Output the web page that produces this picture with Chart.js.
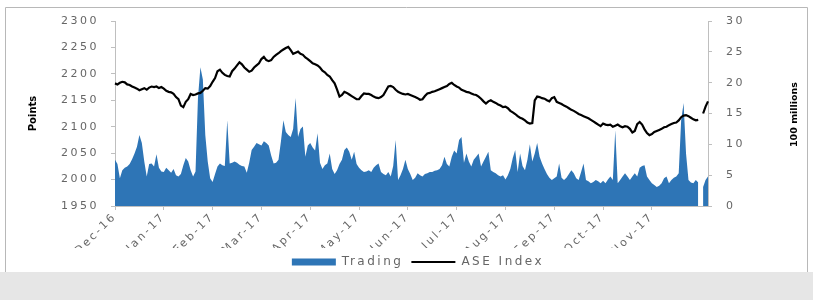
<!DOCTYPE html>
<html>
<head>
<meta charset="utf-8">
<script src="https://cdn.jsdelivr.net/npm/chart.js@4"></script>
<style>
  body { margin: 0; background: #fff; }
</style>
</head>
<body>
<canvas id="chart" width="813" height="300"></canvas>
<script>
// month labels on the x axis, one every 20 trading days
const monthLabels = ['Dec-16', 'Jan-17', 'Feb-17', 'Mar-17', 'Apr-17', 'May-17',
  'Jun-17', 'Jul-17', 'Aug-17', 'Sep-17', 'Oct-17', 'Nov-17'];
const daysPerLabel = 20;

// ASE Index (points, left axis)
const aseIndex = [
  2182, 2180, 2183, 2185, 2184, 2180, 2179, 2176, 2174, 2172, 2169, 2171, 2173, 2170, 2174, 2176, 2175, 2176, 2173, 2175,
  2172, 2168, 2166, 2165, 2162, 2156, 2152, 2140, 2137, 2147, 2152, 2162, 2160, 2161, 2163, 2164, 2168, 2173, 2172, 2177,
  2185, 2192, 2205, 2208, 2202, 2198, 2196, 2195, 2205, 2210, 2216, 2222, 2218, 2212, 2208, 2204, 2206, 2212, 2216, 2220,
  2228, 2232, 2226, 2224, 2226, 2232, 2236, 2239, 2243, 2246, 2249, 2251, 2245, 2238, 2240, 2242, 2238, 2236, 2231, 2228,
  2224, 2220, 2218, 2216, 2212, 2206, 2203, 2198, 2195, 2188, 2182, 2170, 2157, 2160, 2166, 2164, 2161, 2158, 2155, 2152,
  2152, 2158, 2163, 2162, 2162, 2160, 2157, 2155, 2154, 2156, 2160, 2168, 2176, 2177, 2175, 2170, 2166, 2164, 2162, 2161,
  2162, 2160, 2158, 2156, 2154, 2151, 2152, 2158, 2163, 2164, 2166, 2167, 2169, 2171, 2173, 2175, 2177, 2181, 2183, 2179,
  2176, 2174, 2170, 2168, 2166, 2165, 2163, 2161, 2160, 2157, 2153, 2148, 2144, 2148, 2150, 2147, 2145, 2142, 2140, 2137,
  2138, 2135, 2130, 2127, 2124, 2120, 2117, 2115, 2112, 2108, 2106, 2107, 2150, 2157, 2156, 2154, 2153, 2150, 2148, 2154,
  2156, 2147, 2145, 2143, 2140, 2138, 2135, 2132, 2130, 2127, 2124, 2122, 2120, 2118, 2116, 2113, 2110, 2107, 2104, 2101,
  2106, 2104, 2103, 2104, 2100, 2102, 2104, 2101, 2099, 2101, 2100, 2096, 2089, 2092, 2105, 2109, 2104, 2095, 2088, 2084,
  2086, 2090, 2092, 2094, 2096, 2099, 2100, 2103, 2105, 2107, 2108, 2112, 2118, 2121, 2122, 2120, 2117, 2114, 2112, 2113,
  2114, 2125, 2138, 2148
];

// Trading (100 millions, right axis)
const trading = [
  7.5, 6.8, 4.5, 5.8, 6.2, 6.4, 6.8, 7.6, 8.5, 9.6, 11.5, 10.2, 7.2, 4.8, 6.8, 6.9, 6.4, 8.4, 6.2, 5.6,
  5.5, 6.2, 5.8, 5.4, 6.0, 5.0, 4.8, 5.2, 6.6, 7.8, 7.2, 5.8, 4.8, 5.6, 17.5, 22.5, 20.5, 11.5, 7.2, 4.5,
  3.9, 5.2, 6.4, 6.9, 6.6, 6.5, 13.9, 6.9, 7.0, 7.2, 7.0, 6.7, 6.5, 6.4, 5.4, 7.0, 9.1, 9.6, 10.2, 10.0,
  9.8, 10.5, 10.2, 9.8, 8.2, 6.9, 7.0, 7.5, 10.5, 13.9, 12.0, 11.5, 11.2, 12.5, 17.5, 11.2, 12.5, 12.9, 8.0, 9.8,
  10.2, 9.5, 9.0, 11.8, 7.0, 6.0, 6.6, 6.9, 8.5, 6.0, 5.2, 5.8, 6.8, 7.5, 9.1, 9.5, 8.8, 7.5, 8.8, 6.8,
  6.2, 5.8, 5.5, 5.6, 5.8, 5.5, 6.2, 6.6, 6.9, 5.5, 5.2, 5.0, 5.5, 4.8, 6.5, 10.7, 4.2, 5.0, 6.0, 7.5,
  6.0, 5.2, 4.2, 4.6, 5.3, 5.0, 4.8, 5.2, 5.3, 5.5, 5.5, 5.7, 5.8, 6.0, 6.6, 8.0, 6.8, 6.4, 8.0, 9.0,
  8.5, 10.7, 11.2, 7.0, 8.5, 7.2, 6.4, 7.5, 8.0, 8.5, 6.4, 7.2, 8.0, 8.8, 5.8, 5.5, 5.3, 5.0, 4.8, 5.0,
  4.3, 5.0, 6.0, 7.8, 9.1, 5.5, 8.5, 6.5, 5.8, 7.5, 10.0, 7.2, 8.5, 10.2, 8.0, 6.9, 6.0, 5.2, 4.6, 4.2,
  4.5, 4.8, 6.9, 4.6, 4.2, 4.6, 5.2, 5.8, 5.3, 4.5, 4.2, 5.5, 6.9, 4.2, 4.0, 3.7, 3.9, 4.2, 4.0, 3.7,
  4.1, 3.7, 4.3, 4.8, 4.2, 12.3, 3.7, 4.2, 4.8, 5.3, 4.8, 4.2, 4.8, 5.3, 4.8, 6.2, 6.5, 6.6, 4.8, 4.2,
  3.7, 3.4, 3.1, 3.3, 3.7, 4.5, 4.8, 3.7, 4.2, 4.6, 4.8, 5.3, 13.9, 16.7, 8.5, 4.2, 3.8, 3.7, 4.2, 3.8,
  3.3, 3.1, 4.2, 4.8
];

// category labels: month name on every 20th day, blank otherwise
const categories = aseIndex.map((v, i) => i % daysPerLabel === 0 ? monthLabels[i / daysPerLabel] : '');

const axisGray = '#bfbfbf';
const textGray = '#666666';

// white panel with a thin grey frame, grey strip along the bottom
const panel = {
  id: 'panel',
  beforeDraw(chart) {
    const ctx = chart.ctx;
    ctx.save();
    ctx.fillStyle = '#fff';
    ctx.fillRect(0, 0, chart.width, chart.height);
    ctx.fillStyle = '#e6e6e6';
    ctx.fillRect(0, 272, chart.width, chart.height - 272);
    ctx.strokeStyle = '#b8b8b8';
    ctx.lineWidth = 1;
    ctx.beginPath();
    ctx.moveTo(5.5, 272);
    ctx.lineTo(5.5, 7.5);
    ctx.lineTo(807.5, 7.5);
    ctx.lineTo(807.5, 272);
    ctx.stroke();
    ctx.restore();
  }
};

// wide, spaced-out lettering like the original export
const letterSpacing = {
  id: 'letterSpacing',
  beforeUpdate(chart) { chart.ctx.letterSpacing = '2.5px'; },
  beforeDraw(chart) { chart.ctx.letterSpacing = '2.5px'; }
};

// both axis titles read bottom-to-top
const axisTitles = {
  id: 'axisTitles',
  afterDraw(chart) {
    const ctx = chart.ctx;
    const midY = (chart.chartArea.top + chart.chartArea.bottom) / 2;
    ctx.save();
    ctx.letterSpacing = '0px';
    ctx.fillStyle = '#000';
    ctx.font = 'bold 10px "DejaVu Sans"';
    ctx.textAlign = 'center';
    ctx.textBaseline = 'middle';
    ctx.translate(33, midY);
    ctx.rotate(-Math.PI / 2);
    ctx.fillText('Points', 0, 0);
    ctx.restore();

    ctx.save();
    ctx.letterSpacing = '0px';
    ctx.fillStyle = '#000';
    ctx.font = 'bold 9.5px "DejaVu Sans"';
    ctx.textAlign = 'center';
    ctx.textBaseline = 'middle';
    ctx.translate(795, midY + 1);
    ctx.rotate(-Math.PI / 2);
    ctx.fillText('100 millions', 0, 0);
    ctx.restore();
  }
};

const chart = new Chart(document.getElementById('chart'), {
  type: 'line',
  data: {
    labels: categories,
    datasets: [{
      label: 'Trading',
      data: trading,
      yAxisID: 'y1',
      fill: 'origin',
      backgroundColor: '#2e75b6',
      borderColor: '#2e75b6',
      borderWidth: 0,
      pointRadius: 0,
      pointStyle: 'rect',
      tension: 0,
      order: 2
    }, {
      label: 'ASE Index',
      data: aseIndex,
      yAxisID: 'y',
      fill: false,
      backgroundColor: '#000',
      borderColor: '#000',
      borderWidth: 2.2,
      pointRadius: 0,
      pointStyle: 'line',
      tension: 0,
      order: 1
    }]
  },
  options: {
    responsive: false,
    animation: false,
    layout: { padding: { left: 23, right: 0, top: 21, bottom: 22 } },
    plugins: {
      legend: {
        position: 'bottom',
        labels: {
          usePointStyle: true,
          pointStyleWidth: 44,
          boxHeight: 7,
          padding: 8,
          color: textGray,
          font: { family: 'DejaVu Sans', size: 12 },
          sort: (a, b) => a.datasetIndex - b.datasetIndex
        }
      },
      tooltip: { enabled: false }
    },
    scales: {
      x: {
        grid: { drawOnChartArea: false, drawTicks: true, tickLength: 4, color: axisGray },
        border: { color: axisGray },
        ticks: {
          autoSkip: false,
          maxRotation: 45,
          minRotation: 45,
          padding: 0,
          color: textGray,
          font: { family: 'DejaVu Sans', size: 11 },
          callback: function (value) {
            const label = this.getLabelForValue(value);
            return label === '' ? null : label;
          }
        },
        afterFit: (scale) => { scale.height = 42; }
      },
      y: {
        position: 'left',
        min: 1950,
        max: 2300,
        grid: { drawOnChartArea: false, drawTicks: true, tickLength: 4, color: axisGray },
        border: { color: axisGray },
        ticks: {
          stepSize: 50,
          padding: 12,
          color: textGray,
          font: { family: 'DejaVu Sans', size: 11 },
          callback: (value) => String(value)
        },
        afterFit: (scale) => { scale.width = 92; }
      },
      y1: {
        position: 'right',
        min: 0,
        max: 30,
        grid: { drawOnChartArea: false, drawTicks: true, tickLength: 4, color: axisGray },
        border: { color: axisGray },
        ticks: {
          stepSize: 5,
          padding: 14,
          color: textGray,
          font: { family: 'DejaVu Sans', size: 11 },
          callback: (value) => String(value)
        },
        afterFit: (scale) => { scale.width = 105; }
      }
    }
  },
  plugins: [panel, letterSpacing, axisTitles]
});
</script>
</body>
</html>
